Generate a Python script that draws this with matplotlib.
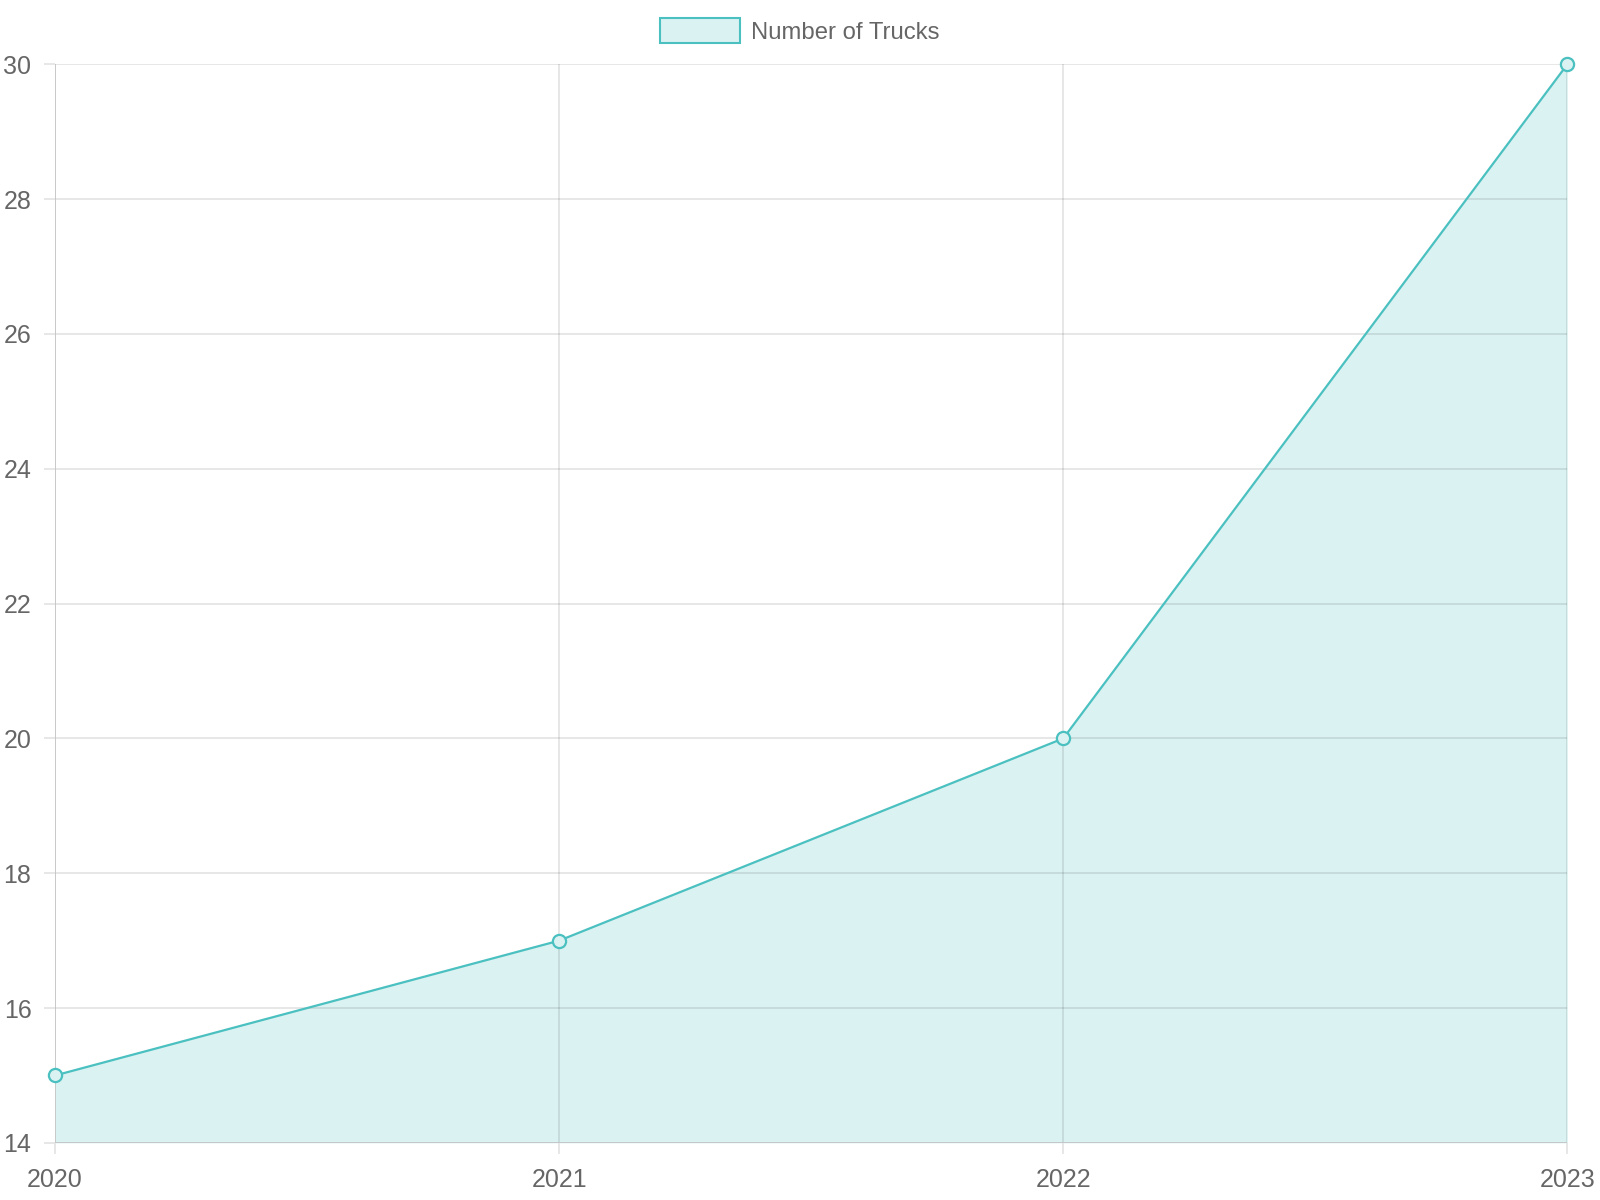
import matplotlib
matplotlib.use("Agg")
import matplotlib.pyplot as plt
from matplotlib.patches import Rectangle

years = ["2020", "2021", "2022", "2023"]
trucks = [15, 17, 20, 30]
y_ticks = [14, 16, 18, 20, 22, 24, 26, 28, 30]

line_col = "#4bc0c0"
fill_col = "#dbf2f2"
grid_col = "#e5e5e5"
axis_col = "#c4c4c4"
txt_col = "#666666"

plt.rcParams['font.family'] = ['Liberation Sans', 'DejaVu Sans']

fig = plt.figure(figsize=(16, 12), dpi=100)
ax = fig.add_axes([0.0344, 0.0476, 0.9452, 0.8988])

x = list(range(len(years)))
ax.fill_between(x, trucks, 14, color=fill_col, linewidth=0, zorder=0.5)
ax.plot(x, trucks, color=line_col, lw=1.6, marker='o', markersize=9.5,
        markerfacecolor=fill_col, markeredgecolor=line_col, markeredgewidth=1.6,
        clip_on=False, zorder=5)

ax.set_xlim(0, len(years) - 1)
ax.set_ylim(14, 30)
ax.set_xticks(x)
ax.set_xticklabels(years)
ax.set_yticks(y_ticks)
for s in ax.spines.values():
    s.set_visible(False)
# grid lines drawn over the fill, light black with alpha
for yv in y_ticks[1:]:
    ax.axhline(yv, color="#000000", alpha=0.1, lw=1.3, zorder=0.8)
for xv in x[1:]:
    ax.axvline(xv, color="#000000", alpha=0.1, lw=1.3, zorder=0.8)
ax.axhline(14, color=axis_col, lw=1.3, zorder=1)
ax.axvline(0, color=axis_col, lw=1.3, zorder=1)
ax.tick_params(axis='both', color=grid_col, labelcolor=txt_col, labelsize=18,
               length=8, width=1.3)
ax.tick_params(axis='x', pad=10)
ax.tick_params(axis='y', pad=9)

# legend box at top centre
fig.patches.append(Rectangle((0.4125, 0.9642), 0.0497, 0.0204, transform=fig.transFigure,
                             facecolor=fill_col, edgecolor=line_col, lw=1.5))
fig.text(0.4695, 0.9725, "Number of Trucks", color=txt_col, fontsize=17.2,
         va='center', ha='left')

fig.savefig("out.png", dpi=100)
